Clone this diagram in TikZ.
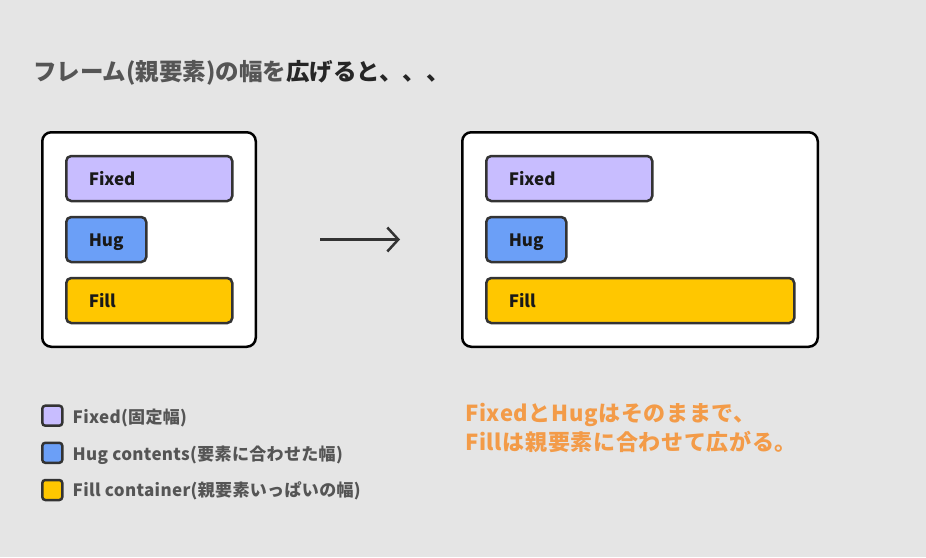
\documentclass[tikz,border=0pt]{standalone}
\usepackage{fontspec}
\setmainfont{Noto Sans CJK JP}
\usepackage{tikz}
\usetikzlibrary{positioning,arrows.meta}

\definecolor{bgcol}{HTML}{E5E5E5}
\definecolor{edgecol}{HTML}{333333}
\definecolor{graytxt}{HTML}{555555}
\definecolor{fixedcol}{HTML}{C8BDFF}
\definecolor{hugcol}{HTML}{6B9FF7}
\definecolor{fillcol}{HTML}{FFC700}
\definecolor{notecol}{HTML}{F39B48}

\begin{document}
\begin{tikzpicture}[x=1pt,y=-1pt,
    frame/.style={draw=black,fill=white,line width=2.5pt,rounded corners=9pt,minimum height=214.5pt},
    item/.style={draw=edgecol,line width=2.5pt,rounded corners=5pt,anchor=west,inner xsep=22.5pt,
      minimum height=45pt,text height=13pt,text depth=0pt,font=\bfseries\fontsize{17}{20}\selectfont,text=black!90},
    key/.style={draw=edgecol,line width=2.5pt,rounded corners=3pt,minimum size=20pt,inner sep=0pt},
    keytext/.style={anchor=base west,inner sep=0pt,text=graytxt,
      font=\bfseries\fontsize{17}{20}\selectfont\addfontfeatures{LetterSpace=2}},
    note/.style={anchor=base west,inner sep=0pt,text=notecol,
      font=\bfseries\fontsize{22}{26}\selectfont\addfontfeatures{LetterSpace=3}}]
  \fill[bgcol] (0,0) rectangle (926,557);
  % title
  \node[anchor=base west,inner sep=0pt,font=\bfseries\fontsize{23.5}{28}\selectfont] (title) at (33,80)
    {\textcolor{graytxt}{フレーム(親要素)の幅を}\textcolor{black!85}{広げると、、、}};
  % before
  \node[frame,minimum width=213.5pt] (frameL) at (149,239.5) {};
  \node[item,fill=fixedcol,text width=121pt] (fixedL) at (65,178.5) {Fixed};
  \node[item,fill=hugcol,text width=35pt] (hugL) at (65,239.5) {Hug};
  \node[item,fill=fillcol,text width=121pt] (fillL) at (65,300.5) {Fill};
  % after
  \node[frame,minimum width=355.5pt] (frameR) at (640,239.5) {};
  \node[item,fill=fixedcol,text width=121pt] (fixedR) at (485,178.5) {Fixed};
  \node[item,fill=hugcol,text width=35pt] (hugR) at (485,239.5) {Hug};
  \node[item,fill=fillcol,text width=263pt] (fillR) at (485,300.5) {Fill};
  \coordinate (arrowS) at (320,239.5);
  \coordinate (arrowE) at (400,239.5);
  \draw[-{Straight Barb[length=11pt,width=24pt]},line width=2.5pt,edgecol] (arrowS) -- (arrowE);
  % legend
  \node[key,fill=fixedcol] (keyFixed) at (52.3,415.7) {};
  \node[key,fill=hugcol] (keyHug) at (52.3,452.8) {};
  \node[key,fill=fillcol] (keyFill) at (52.3,490) {};
  \node[keytext] (labFixed) at (72.5,423.3) {Fixed(固定幅)};
  \node[keytext] (labHug) at (72.5,460) {Hug contents(要素に合わせた幅)};
  \node[keytext] (labFill) at (72.5,496.7) {Fill container(親要素いっぱいの幅)};
  % note
  \node[note] (noteA) at (465,421) {FixedとHugはそのままで、};
  \node[note] (noteB) at (465,450) {Fillは親要素に合わせて広がる。};
\end{tikzpicture}
\end{document}
